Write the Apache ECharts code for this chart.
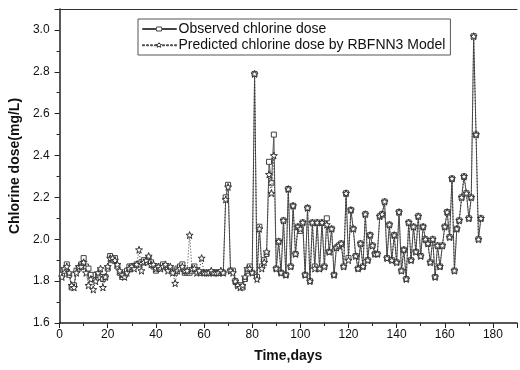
<!DOCTYPE html>
<html>
<head>
<meta charset="utf-8">
<script src="https://cdn.jsdelivr.net/npm/echarts@6/dist/echarts.min.js"></script>
<style>
  html, body { margin: 0; padding: 0; background: #fff; }
  #chart { width: 520px; height: 370px; }
</style>
</head>
<body>
<div id="chart"></div>
<script>
// day 1 .. day 175
const firstDay = 1;

const observed = [
  1.83, 1.85, 1.88, 1.83, 1.77, 1.78, 1.85, 1.86, 1.88, 1.91,
  1.87, 1.86, 1.83, 1.81, 1.83, 1.83, 1.82, 1.81, 1.82, 1.86,
  1.92, 1.90, 1.91, 1.87, 1.84, 1.82, 1.83, 1.85, 1.87, 1.87,
  1.87, 1.88, 1.88, 1.89, 1.90, 1.89, 1.91, 1.89, 1.87, 1.85,
  1.86, 1.87, 1.88, 1.87, 1.86, 1.86, 1.85, 1.84, 1.86, 1.87,
  1.88, 1.84, 1.84, 1.84, 1.85, 1.87, 1.85, 1.84, 1.84, 1.84,
  1.84, 1.84, 1.84, 1.84, 1.84, 1.84, 1.84, 1.84, 2.20, 2.26,
  1.85, 1.85, 1.80, 1.78, 1.78, 1.77, 1.81, 1.85, 1.87, 1.84,
  2.79, 1.82, 2.06, 1.87, 1.90, 1.93, 2.37, 2.27, 2.50, 1.86,
  1.99, 1.84, 2.09, 1.83, 2.24, 1.87, 2.16, 1.93, 2.06, 2.04,
  2.08, 1.83, 2.15, 1.80, 2.08, 1.87, 2.08, 1.86, 2.08, 1.87,
  2.10, 1.94, 2.05, 1.83, 1.96, 1.97, 1.98, 1.87, 2.22, 1.91,
  2.14, 2.05, 1.92, 1.86, 1.98, 1.87, 2.12, 1.90, 2.02, 1.97,
  1.93, 1.93, 2.11, 2.12, 2.18, 1.91, 2.07, 1.90, 2.02, 1.89,
  2.13, 1.85, 1.95, 1.81, 2.08, 1.90, 2.06, 1.94, 2.11, 1.92,
  2.06, 2.00, 1.98, 1.89, 2.00, 1.82, 1.97, 1.87, 1.97, 2.06,
  2.13, 2.01, 2.29, 1.85, 2.05, 2.09, 2.20, 2.30, 2.22, 2.10,
  2.20, 2.97, 2.50, 2.00, 2.10
];

const predicted = [
  1.82, 1.86, 1.87, 1.84, 1.78, 1.77, 1.84, 1.87, 1.87, 1.89,
  1.84, 1.78, 1.81, 1.76, 1.80, 1.84, 1.86, 1.77, 1.82, 1.87,
  1.91, 1.91, 1.90, 1.88, 1.85, 1.83, 1.82, 1.84, 1.86, 1.87,
  1.86, 1.88, 1.95, 1.85, 1.89, 1.90, 1.92, 1.88, 1.88, 1.86,
  1.87, 1.86, 1.87, 1.88, 1.85, 1.87, 1.84, 1.79, 1.85, 1.86,
  1.87, 1.85, 1.85, 2.02, 1.86, 1.86, 1.84, 1.85, 1.91, 1.84,
  1.84, 1.84, 1.85, 1.84, 1.84, 1.84, 1.85, 1.84, 2.19, 2.25,
  1.85, 1.84, 1.80, 1.78, 1.77, 1.78, 1.82, 1.86, 1.86, 1.84,
  2.79, 1.81, 2.05, 1.86, 1.89, 1.94, 2.31, 2.22, 2.40, 1.86,
  1.99, 1.84, 2.09, 1.83, 2.24, 1.87, 2.16, 1.93, 2.06, 2.05,
  2.08, 1.83, 2.15, 1.80, 2.08, 1.86, 2.08, 1.86, 2.08, 1.87,
  2.07, 1.94, 2.05, 1.83, 1.96, 1.97, 1.98, 1.87, 2.22, 1.90,
  2.14, 2.05, 1.92, 1.86, 1.98, 1.87, 2.12, 1.90, 2.02, 1.97,
  1.93, 1.93, 2.11, 2.12, 2.18, 1.91, 2.07, 1.90, 2.02, 1.89,
  2.13, 1.85, 1.95, 1.81, 2.08, 1.90, 2.06, 1.94, 2.11, 1.92,
  2.06, 2.00, 1.98, 1.89, 2.00, 1.82, 1.97, 1.87, 1.97, 2.06,
  2.13, 2.01, 2.29, 1.85, 2.05, 2.09, 2.20, 2.30, 2.22, 2.10,
  2.20, 2.97, 2.50, 2.00, 2.10
];

const seriesNames = ['Observed chlorine dose', 'Predicted chlorine dose by RBFNN3 Model'];

const starPath = 'path://M0,-10L2.35,-3.24L9.51,-3.09L3.8,1.24L5.88,8.09L0,4L-5.88,8.09L-3.8,1.24L-9.51,-3.09L-2.35,-3.24Z';
const font = '"Liberation Sans", Arial, sans-serif';

const toPoints = arr => arr.map((v, i) => [firstDay + i, v]);

const chart = echarts.init(document.getElementById('chart'), null, {renderer: 'canvas'});

chart.setOption({
  animation: false,
  backgroundColor: '#fff',
  textStyle: {fontFamily: font},
  grid: {left: 59, right: 0, top: 9, bottom: 47},
  legend: {
    orient: 'vertical',
    left: 138,
    top: 19,
    padding: [3, 5, 3, 4],
    itemGap: 2,
    itemWidth: 34,
    itemHeight: 16,
    itemStyle: {borderWidth: 1},
    borderColor: '#555',
    borderWidth: 1,
    textStyle: {fontFamily: font, fontSize: 14, color: '#111', padding: [0, 0, 0, -3]},
    data: [
      {name: seriesNames[0], icon: 'path://M0,7.5L14,7.5L14,6L19,6L19,7.5L34,7.5L34,8.5L19,8.5L19,10L14,10L14,8.5L0,8.5Z'},
      {name: seriesNames[1], icon: 'path://M0,7.5L2,7.5L2,8.5L0,8.5ZM4,7.5L6,7.5L6,8.5L4,8.5ZM8,7.5L10,7.5L10,8.5L8,8.5ZM12,7.5L14,7.5L14,8.5L12,8.5ZM16.5,5.5L17.5,7L19,7.2L18,8.3L18.3,10L16.5,9.1L14.7,10L15,8.3L14,7.2L15.5,7ZM20,7.5L22,7.5L22,8.5L20,8.5ZM24,7.5L26,7.5L26,8.5L24,8.5ZM28,7.5L30,7.5L30,8.5L28,8.5ZM32,7.5L34,7.5L34,8.5L32,8.5Z'}
    ]
  },
  xAxis: [{
    type: 'value',
    min: 0,
    max: 190,
    interval: 20,
    name: 'Time,days',
    nameLocation: 'middle',
    nameGap: 26,
    nameTextStyle: {fontFamily: font, fontSize: 14, fontWeight: 'bold', color: '#111'},
    axisLine: {lineStyle: {color: '#222', width: 1.5}},
    axisTick: {length: 5, lineStyle: {color: '#222'}},
    minorTick: {show: true, splitNumber: 2, length: 3, lineStyle: {color: '#222'}},
    axisLabel: {
      fontFamily: font, fontSize: 12, color: '#111', margin: 6,
      formatter: v => (v % 20 === 0 && v <= 180 ? String(v) : '')
    },
    splitLine: {show: false}
  }, {
    type: 'value',
    position: 'top',
    min: 0,
    max: 190,
    axisLine: {show: true, lineStyle: {color: '#333', width: 1}},
    axisTick: {show: false},
    axisLabel: {show: false},
    splitLine: {show: false}
  }],
  yAxis: {
    type: 'value',
    min: 1.6,
    max: 3.1,
    interval: 0.2,
    name: 'Chlorine dose(mg/L)',
    nameLocation: 'middle',
    nameGap: 35,
    nameTextStyle: {fontFamily: font, fontSize: 14, fontWeight: 'bold', color: '#111'},
    axisLine: {show: true, lineStyle: {color: '#222', width: 1.5}},
    axisTick: {length: 5, lineStyle: {color: '#222'}},
    minorTick: {show: true, splitNumber: 2, length: 3, lineStyle: {color: '#222'}},
    axisLabel: {
      fontFamily: font, fontSize: 12, color: '#111', margin: 10,
      showMaxLabel: false,
      formatter: v => (v <= 3.01 ? v.toFixed(1) : '')
    },
    splitLine: {show: false}
  },
  series: [{
    name: seriesNames[0],
    type: 'line',
    data: toPoints(observed),
    symbol: 'rect',
    symbolSize: 5,
    itemStyle: {color: '#fff', borderColor: '#444', borderWidth: 1},
    lineStyle: {color: '#555', width: 1, type: 'solid'},
    z: 2
  }, {
    name: seriesNames[1],
    type: 'line',
    data: toPoints(predicted),
    symbol: starPath,
    symbolSize: 7,
    itemStyle: {color: '#fff', borderColor: '#333', borderWidth: 1},
    lineStyle: {color: '#333', width: 1, type: [1, 2]},
    z: 3
  }]
});
</script>
</body>
</html>
